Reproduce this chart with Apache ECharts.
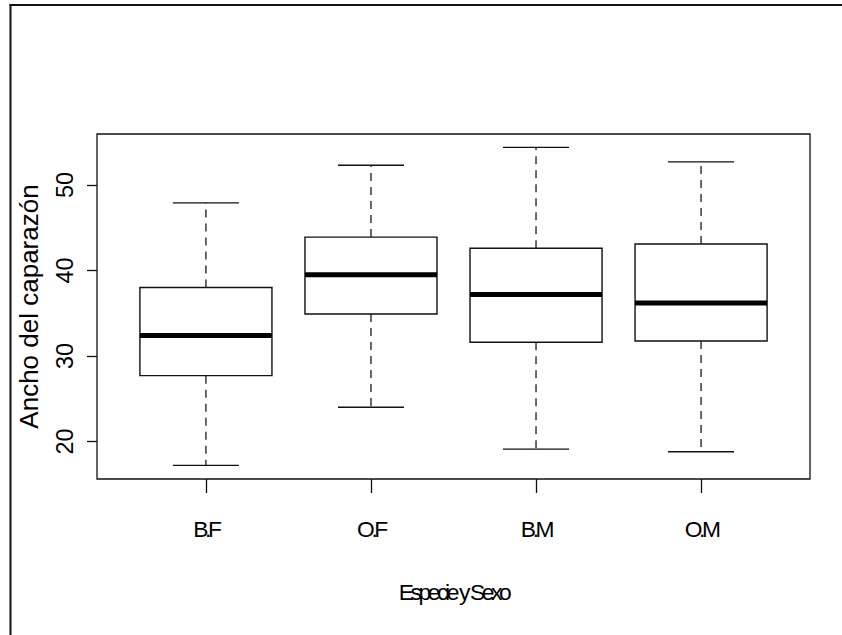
<!DOCTYPE html>
<html>
<head>
<meta charset="utf-8">
<script src="https://cdn.jsdelivr.net/npm/echarts@6/dist/echarts.min.js"></script>
<style>
  html, body { margin: 0; padding: 0; background: #fff; }
  #main { width: 842px; height: 635px; }
  #main text[style*="22.8px"] { letter-spacing: -3.4px; }
</style>
</head>
<body>
<div id="main"></div>
<script>
// ---- data ----
const categories = ['B.F', 'O.F', 'B.M', 'O.M'];
const whiskerLow  = [17.2, 24.0, 19.1, 18.8];
const quartile1   = [27.7, 34.9, 31.6, 31.75];
const medians     = [32.4, 39.5, 37.2, 36.2];
const quartile3   = [38.0, 43.9, 42.6, 43.1];
const whiskerHigh = [47.9, 52.3, 54.4, 52.7];
const yTicks = [20, 30, 40, 50];
const xTitle = 'Especie y Sexo';
const yTitle = 'Ancho del caparazón';

const positions = categories.map((c, i) => i + 1);
const boxData = categories.map((c, i) => [positions[i], whiskerLow[i], quartile1[i], medians[i], quartile3[i], whiskerHigh[i]]);

const FONT = 'Liberation Sans, Arial, Helvetica, sans-serif';
const chart = echarts.init(document.getElementById('main'), null, { renderer: 'svg' });

function renderBox(params, api) {
  const x = api.value(0);
  const lo = api.coord([x, api.value(1)]);
  const q1 = api.coord([x, api.value(2)]);
  const md = api.coord([x, api.value(3)]);
  const q3 = api.coord([x, api.value(4)]);
  const hi = api.coord([x, api.value(5)]);
  const boxHalf = api.size([0.4, 0])[0];
  const capHalf = api.size([0.2, 0])[0];
  const cx = lo[0];
  const dashStyle = { stroke: '#1a1a1a', lineWidth: 1.3, lineDash: [8, 6] };
  const solid = { stroke: '#111', lineWidth: 1.4 };
  return {
    type: 'group',
    children: [
      { type: 'line', shape: { x1: cx, y1: q3[1], x2: cx, y2: hi[1] }, style: dashStyle },
      { type: 'line', shape: { x1: cx, y1: q1[1], x2: cx, y2: lo[1] }, style: dashStyle },
      { type: 'line', shape: { x1: cx - capHalf, y1: hi[1], x2: cx + capHalf, y2: hi[1] }, style: solid },
      { type: 'line', shape: { x1: cx - capHalf, y1: lo[1], x2: cx + capHalf, y2: lo[1] }, style: solid },
      { type: 'rect', shape: { x: cx - boxHalf, y: q3[1], width: boxHalf * 2, height: q1[1] - q3[1] },
        style: { fill: '#fff', stroke: '#111', lineWidth: 1.4 } },
      { type: 'line', shape: { x1: cx - boxHalf, y1: md[1], x2: cx + boxHalf, y2: md[1] },
        style: { stroke: '#000', lineWidth: 5 } }
    ]
  };
}

chart.setOption({
  backgroundColor: '#fff',
  animation: false,
  grid: {
    left: 97, top: 134, right: 32, bottom: 156,
    show: true, borderColor: '#111', borderWidth: 1.3, backgroundColor: 'transparent'
  },
  graphic: [
    { type: 'line', shape: { x1: 9.5, y1: 5, x2: 842, y2: 5 }, style: { stroke: '#111', lineWidth: 2 }, z: 100 },
    { type: 'line', shape: { x1: 10.5, y1: 4, x2: 10.5, y2: 635 }, style: { stroke: '#111', lineWidth: 2 }, z: 100 }
  ],
  xAxis: {
    type: 'value',
    min: 0.34, max: 4.66,
    axisLine: { show: false },
    splitLine: { show: false },
    axisTick: { show: true, customValues: positions, length: 14, lineStyle: { color: '#111', width: 1.3 } },
    axisLabel: {
      customValues: positions,
      formatter: v => categories[Math.round(v) - 1],
      margin: 38,
      fontFamily: FONT, fontSize: 22.8, color: '#000'
    },
    name: xTitle,
    nameLocation: 'middle',
    nameGap: 101,
    nameTextStyle: { fontFamily: FONT, fontSize: 22.8, color: '#000' }
  },
  yAxis: {
    type: 'value',
    min: 15.61, max: 55.96,
    axisLine: { show: false },
    splitLine: { show: false },
    axisTick: { show: true, customValues: yTicks, length: 10, lineStyle: { color: '#111', width: 1.3 } },
    axisLabel: {
      customValues: yTicks,
      rotate: 90,
      margin: 21,
      fontFamily: FONT, fontSize: 23.4, color: '#000'
    },
    name: yTitle,
    nameLocation: 'middle',
    nameRotate: 90,
    nameGap: 55,
    nameTextStyle: { fontFamily: FONT, fontSize: 26, color: '#000' }
  },
  series: [{
    type: 'custom',
    renderItem: renderBox,
    encode: { x: 0, y: [1, 2, 3, 4, 5] },
    data: boxData,
    clip: false
  }]
});
</script>
</body>
</html>
